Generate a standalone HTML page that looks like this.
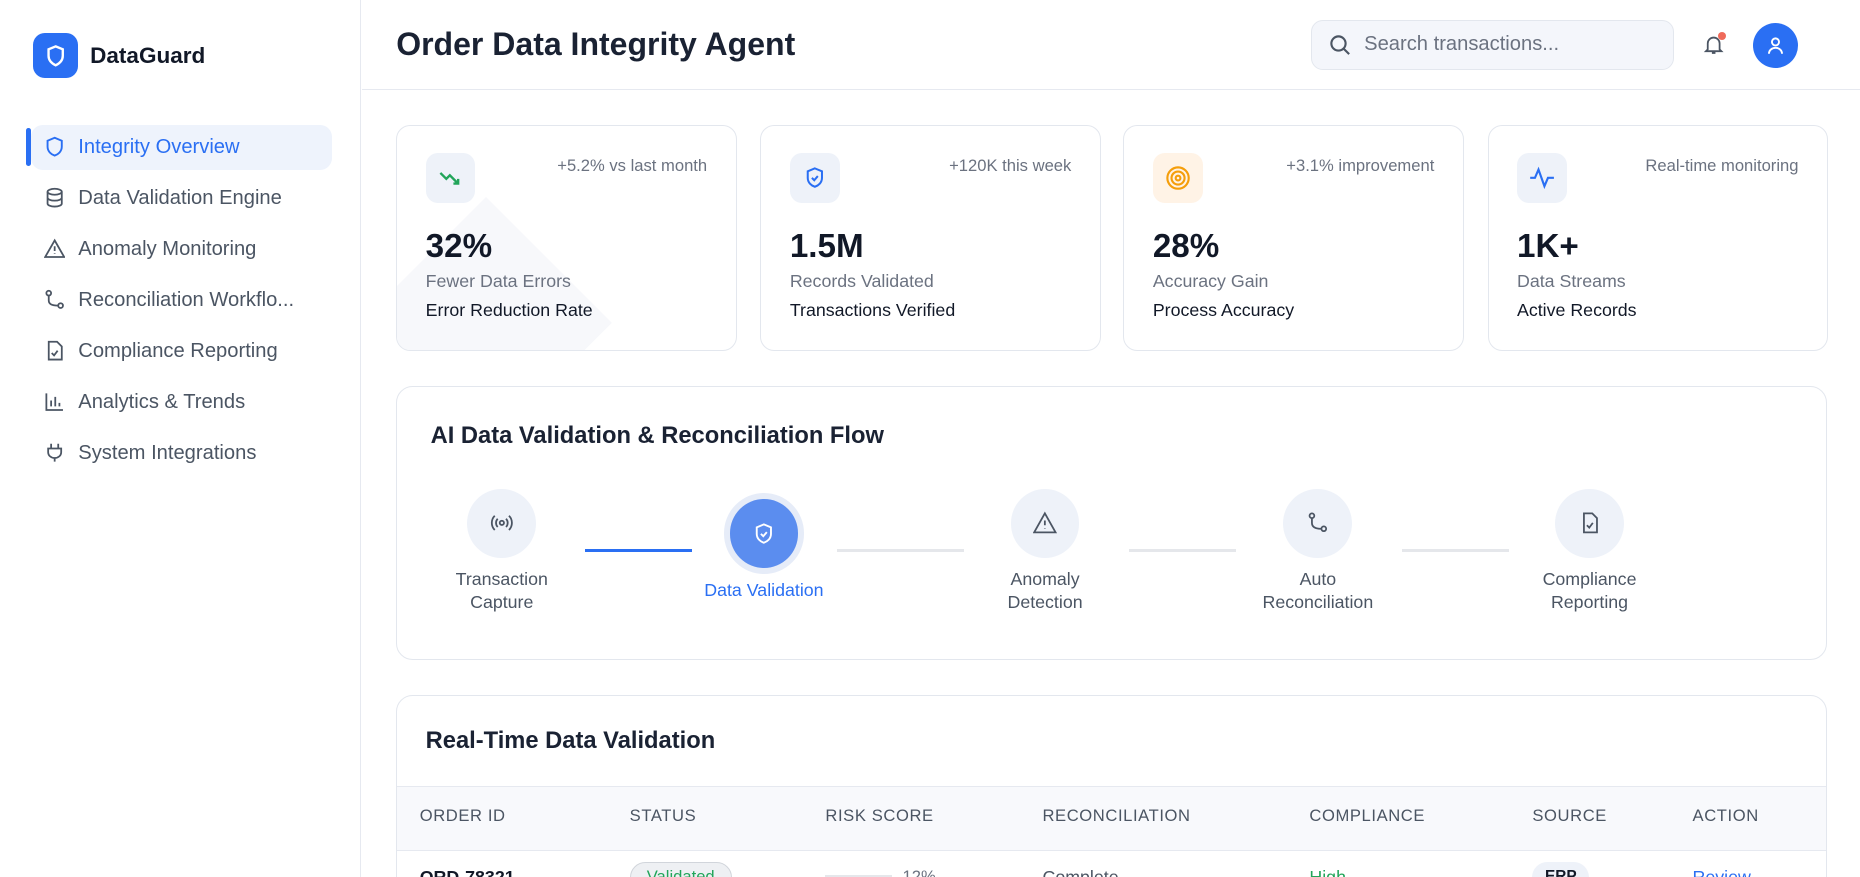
<!DOCTYPE html>
<html><head><meta charset="utf-8"><style>
*{box-sizing:border-box;margin:0;padding:0}
html,body{width:1860px;height:876px;overflow:hidden;background:#fff;font-family:"Liberation Sans",sans-serif}
#c{position:absolute;left:0;top:0;width:1568px;height:739px;zoom:1.18622;background:#fff;overflow:hidden}
.a{position:absolute}
.sb{left:0;top:0;width:304px;height:739px;border-right:1px solid #e6e9f0;background:#fff}
.nav{position:absolute;left:26px;width:254px;height:38px;display:flex;align-items:center;font-size:17px;color:#4b5563}
.nav svg{position:absolute;left:11px}
.nav span{position:absolute;left:40px}
.card{position:absolute;top:105px;width:287px;height:191px;border:1px solid #e3e7ee;border-radius:12px;background:#fff;overflow:hidden}
.ib{position:absolute;left:24px;top:23px;width:42px;height:42px;border-radius:10px;background:#eef2f9;display:flex;align-items:center;justify-content:center}
.tr{position:absolute;right:24px;top:26px;font-size:14px;color:#6b7280}
.v{position:absolute;left:24px;top:86px;font-size:28px;font-weight:bold;color:#111827}
.l1{position:absolute;left:24px;top:123px;font-size:15px;color:#6b7280}
.l2{position:absolute;left:24px;top:147px;font-size:15px;color:#111827}
.panel{position:absolute;left:334px;width:1206px;border:1px solid #e3e7ee;border-radius:14px;background:#fff;overflow:hidden}
.st{position:absolute;width:58px;height:58px;border-radius:50%;background:#eef2f9;display:flex;align-items:center;justify-content:center}
.sl{position:absolute;width:160px;text-align:center;font-size:15px;color:#4b5563;line-height:19px}
.ln{position:absolute;top:463px;height:2px;background:#e5e7eb}
.th{position:absolute;top:93px;font-size:14px;color:#4b5563;letter-spacing:.5px}
</style></head><body><div id="c">
<div class="a sb">
 <div class="a" style="left:28px;top:28px;width:38px;height:38px;border-radius:10px;background:#2a6ff3;display:flex;align-items:center;justify-content:center">
  <svg width="18" height="20" viewBox="0 0 18 20"><path d="M9 2 L15 4.5 V10 C15 14 12 16.5 9 18 C6 16.5 3 14 3 10 V4.5 Z" fill="none" stroke="#fff" stroke-width="2"/></svg></div>
 <div class="a" style="left:76px;top:36px;font-size:19px;font-weight:bold;color:#111827">DataGuard</div>
 <div class="a" style="left:22px;top:108px;width:4px;height:32px;border-radius:2px;background:#2a6ff3"></div>
 <div class="nav" style="top:105px;background:#eef3fc;border-radius:10px;color:#2a6ff3"><svg width="18" height="18" viewBox="0 0 18 18"><path d="M9 1.5 L15 4 V9 C15 13 12 15.5 9 16.5 C6 15.5 3 13 3 9 V4 Z" fill="none" stroke="#2a6ff3" stroke-width="1.6"/></svg><span>Integrity Overview</span></div>
 <div class="nav" style="top:148px"><svg width="18" height="18" viewBox="0 0 18 18" fill="none" stroke="#4b5563" stroke-width="1.5"><ellipse cx="9" cy="4" rx="6" ry="2.5"/><path d="M3 4v10c0 1.4 2.7 2.5 6 2.5s6-1.1 6-2.5V4M3 9c0 1.4 2.7 2.5 6 2.5s6-1.1 6-2.5"/></svg><span>Data Validation Engine</span></div>
 <div class="nav" style="top:191px"><svg width="18" height="18" viewBox="0 0 18 18" fill="none" stroke="#4b5563" stroke-width="1.5"><path d="M9 2 L17 16 H1 Z M9 7v4 M9 13v.5"/></svg><span>Anomaly Monitoring</span></div>
 <div class="nav" style="top:234px"><svg width="18" height="18" viewBox="0 0 18 18" fill="none" stroke="#4b5563" stroke-width="1.5"><circle cx="4" cy="3.5" r="2"/><circle cx="14" cy="14" r="2"/><path d="M4 5.5v4c0 3 2 4.5 8 4.5"/></svg><span>Reconciliation Workflo...</span></div>
 <div class="nav" style="top:277px"><svg width="18" height="18" viewBox="0 0 18 18" fill="none" stroke="#4b5563" stroke-width="1.5"><path d="M4 1.5h7l4 4v11H4z M6.5 11l2 2 3-4"/></svg><span>Compliance Reporting</span></div>
 <div class="nav" style="top:320px"><svg width="18" height="18" viewBox="0 0 18 18" fill="none" stroke="#4b5563" stroke-width="1.5"><path d="M2 2v14h14 M6 13V8 M9.5 13V5 M13 13v-3"/></svg><span>Analytics &amp; Trends</span></div>
 <div class="nav" style="top:363px"><svg width="18" height="18" viewBox="0 0 18 18" fill="none" stroke="#4b5563" stroke-width="1.5"><path d="M6 1.5v4 M12 1.5v4 M3.5 5.5h11v3c0 3-2.5 5-5.5 5s-5.5-2-5.5-5z M9 13.5v3"/></svg><span>System Integrations</span></div>
</div>
<div class="a" style="left:305px;top:75px;width:1263px;height:1px;background:#e6e9f0"></div>
<div class="a" style="left:334px;top:22px;font-size:27px;font-weight:bold;color:#1a2233">Order Data Integrity Agent</div>
<div class="a" style="left:1105px;top:17px;width:306px;height:42px;border-radius:10px;background:#f4f6fb;border:1px solid #e3e7ee"></div>
<svg class="a" style="left:1120px;top:29px" width="19" height="19" viewBox="0 0 19 19" fill="none" stroke="#4b5563" stroke-width="1.8"><circle cx="8" cy="8" r="6"/><path d="M12.5 12.5L17 17"/></svg>
<div class="a" style="left:1150px;top:28px;font-size:17px;color:#6b7280">Search transactions...</div>
<svg class="a" style="left:1436px;top:29px" width="18" height="18" viewBox="0 0 18 18" fill="none" stroke="#4b5563" stroke-width="1.5"><path d="M4 13V8a5 5 0 0 1 10 0v5l1.5 1.5h-13z M7.5 16h3"/></svg>
<div class="a" style="left:1448px;top:27px;width:7px;height:7px;border-radius:50%;background:#ef6a5a"></div>
<div class="a" style="left:1478px;top:19px;width:38px;height:38px;border-radius:50%;background:#2a6ff3"></div>
<svg class="a" style="left:1489px;top:30px" width="16" height="16" viewBox="0 0 16 16" fill="none" stroke="#fff" stroke-width="1.6"><circle cx="8" cy="5" r="3"/><path d="M2.5 15c0-3 2.5-5 5.5-5s5.5 2 5.5 5"/></svg>

<div class="card" style="left:334px"><div class="a" style="top:60px;width:150px;height:150px;background:#f7f8fb;transform:rotate(45deg);transform-origin:0 0;left:75px"></div><div class="ib"><svg width="22" height="18" viewBox="0 0 22 18" fill="none" stroke="#22a55a" stroke-width="2"><path d="M2 5l5 5 3-3 7 7 M13 14h4v-4"/></svg></div><div class="tr">+5.2% vs last month</div><div class="v">32%</div><div class="l1">Fewer Data Errors</div><div class="l2">Error Reduction Rate</div></div>
<div class="card" style="left:641px"><div class="ib"><svg width="20" height="20" viewBox="0 0 20 20" fill="none" stroke="#2a6ff3" stroke-width="1.7"><path d="M10 2L16 4.5V10c0 4-3 6.5-6 7.5C7 16.5 4 14 4 10V4.5z M7.5 10l2 2 3-3.5"/></svg></div><div class="tr">+120K this week</div><div class="v">1.5M</div><div class="l1">Records Validated</div><div class="l2">Transactions Verified</div></div>
<div class="card" style="left:947px"><div class="ib" style="background:#fff3e6"><svg width="22" height="22" viewBox="0 0 22 22" fill="none" stroke="#f59e0b" stroke-width="1.8"><circle cx="11" cy="11" r="9"/><circle cx="11" cy="11" r="5.5"/><circle cx="11" cy="11" r="2"/></svg></div><div class="tr">+3.1% improvement</div><div class="v">28%</div><div class="l1">Accuracy Gain</div><div class="l2">Process Accuracy</div></div>
<div class="card" style="left:1254px"><div class="ib"><svg width="22" height="20" viewBox="0 0 22 20" fill="none" stroke="#2a6ff3" stroke-width="1.8"><path d="M1 10h4l3-7 5 14 3-7h5"/></svg></div><div class="tr">Real-time monitoring</div><div class="v">1K+</div><div class="l1">Data Streams</div><div class="l2">Active Records</div></div>

<div class="panel" style="top:325px;height:231px"></div>
<div class="a" style="left:363px;top:357px;font-size:20px;font-weight:bold;color:#1a2233">AI Data Validation &amp; Reconciliation Flow</div>
<div class="ln" style="left:493px;width:90px;background:#2a6ff3"></div>
<div class="ln" style="left:706px;width:107px"></div>
<div class="ln" style="left:952px;width:90px"></div>
<div class="ln" style="left:1182px;width:90px"></div>
<div class="st" style="left:394px;top:412px"><svg width="20" height="20" viewBox="0 0 20 20" fill="none" stroke="#4b5563" stroke-width="1.5"><circle cx="10" cy="10" r="1.8"/><path d="M6.5 6.5a5 5 0 0 0 0 7 M13.5 6.5a5 5 0 0 1 0 7 M4 4a8.5 8.5 0 0 0 0 12 M16 4a8.5 8.5 0 0 1 0 12"/></svg></div>
<div class="a" style="left:610px;top:416px;width:68px;height:68px;border-radius:50%;background:#e6ecf8"></div>
<div class="st" style="left:615px;top:421px;background:#5b8def"><svg width="20" height="20" viewBox="0 0 20 20" fill="none" stroke="#fff" stroke-width="1.6"><path d="M10 2L16 4.5V10c0 4-3 6.5-6 7.5C7 16.5 4 14 4 10V4.5z M7.5 10l2 2 3-3.5"/></svg></div>
<div class="st" style="left:852px;top:412px"><svg width="20" height="20" viewBox="0 0 20 20" fill="none" stroke="#4b5563" stroke-width="1.5"><path d="M10 2L19 18H1Z M10 8v4 M10 14.5v.5"/></svg></div>
<div class="st" style="left:1082px;top:412px"><svg width="20" height="20" viewBox="0 0 20 20" fill="none" stroke="#4b5563" stroke-width="1.5"><circle cx="5" cy="4" r="2"/><circle cx="15" cy="15" r="2"/><path d="M5 6v4c0 3 2 5 8 5"/></svg></div>
<div class="st" style="left:1311px;top:412px"><svg width="20" height="20" viewBox="0 0 20 20" fill="none" stroke="#4b5563" stroke-width="1.5"><path d="M5 2h7l4 4v12H5z M7.5 12l2 2 3-4"/></svg></div>
<div class="sl" style="left:343px;top:479px">Transaction<br>Capture</div>
<div class="sl" style="left:564px;top:488px;color:#2a6ff3">Data Validation</div>
<div class="sl" style="left:801px;top:479px">Anomaly<br>Detection</div>
<div class="sl" style="left:1031px;top:479px">Auto<br>Reconciliation</div>
<div class="sl" style="left:1260px;top:479px">Compliance<br>Reporting</div>

<div class="panel" style="top:586px;height:200px">
 <div class="a" style="left:24px;top:27px;font-size:20px;font-weight:bold;color:#1a2233">Real-Time Data Validation</div>
 <div class="a" style="left:0;top:76px;width:1206px;height:55px;background:#f8f9fc;border-top:1px solid #e6e9f0;border-bottom:1px solid #e6e9f0"></div>
 <div class="th" style="left:19px">ORDER ID</div><div class="th" style="left:196px">STATUS</div><div class="th" style="left:361px">RISK SCORE</div><div class="th" style="left:544px">RECONCILIATION</div><div class="th" style="left:769px">COMPLIANCE</div><div class="th" style="left:957px">SOURCE</div><div class="th" style="left:1092px">ACTION</div>
 <div class="a" style="left:19px;top:144px;font-size:15px;font-weight:bold;color:#111827">ORD-78321</div>
 <div class="a" style="left:196px;top:140px;width:86px;height:26px;border-radius:13px;background:#eef0f3;border:1px solid #d1d5db;font-size:14px;color:#22a55a;text-align:center;line-height:24px">Validated</div>
 <div class="a" style="left:361px;top:151px;width:56px;height:4px;background:#e5e7eb"></div>
 <div class="a" style="left:426px;top:144px;font-size:14px;color:#6b7280">12%</div>
 <div class="a" style="left:544px;top:144px;font-size:15px;color:#4b5563">Complete</div>
 <div class="a" style="left:769px;top:144px;font-size:15px;color:#22a55a">High</div>
 <div class="a" style="left:957px;top:140px;width:48px;height:26px;border-radius:13px;background:#eef2f9;font-size:13px;font-weight:bold;text-align:center;line-height:26px;color:#111827">ERP</div>
 <div class="a" style="left:1092px;top:144px;font-size:15px;color:#2a6ff3">Review</div>
</div>
</div></body></html>
